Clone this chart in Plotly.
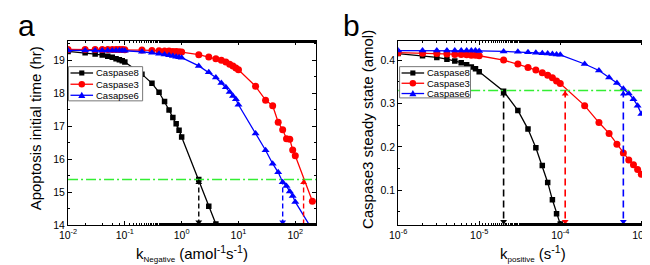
import plotly.graph_objects as go
import numpy as np

# ---------------- Panel a data ----------------
a_x8 = [0.01, 0.02, 0.03, 0.04, 0.05, 0.06, 0.07, 0.08, 0.09, 0.1,
        0.2, 0.3, 0.4, 0.5, 0.6, 0.7, 0.8, 0.9, 1, 2, 3, 4]
a_y8 = [19.27, 19.23, 19.19, 19.16, 19.12, 19.09, 19.05, 19.02, 18.99, 18.95,
        18.58, 18.30, 18.03, 17.75, 17.49, 17.26, 17.07, 16.88, 16.67, 15.38, 14.57, 14.03]

a_x3 = [0.01, 0.02, 0.03, 0.04, 0.05, 0.06, 0.07, 0.08, 0.09, 0.1,
        0.2, 0.3, 0.4, 0.5, 0.6, 0.7, 0.8, 0.9, 1,
        2, 3, 4, 5, 6, 7, 8, 9, 10, 20, 30, 40, 50, 60, 70, 80, 90, 100, 200]
a_y3 = [19.33, 19.33, 19.33, 19.33, 19.33, 19.33, 19.33, 19.33, 19.33, 19.32,
        19.31, 19.30, 19.29, 19.28, 19.28, 19.27, 19.27, 19.26, 19.25,
        19.17, 19.10, 19.05, 19.00, 18.95, 18.88, 18.83, 18.77, 18.71,
        18.21, 17.79, 17.62, 17.12, 16.89, 16.62, 16.60, 16.28, 16.10, 14.72]

a_x6 = [0.01, 0.02, 0.03, 0.04, 0.05, 0.06, 0.07, 0.08, 0.09, 0.1,
        0.2, 0.3, 0.4, 0.5, 0.6, 0.7, 0.8, 0.9, 1,
        2, 3, 4, 5, 6, 7, 8, 9, 10, 20, 30, 40, 50, 60, 70, 80, 90, 100, 200]
a_y6 = [19.30, 19.30, 19.30, 19.30, 19.30, 19.30, 19.30, 19.30, 19.30, 19.29,
        19.26, 19.23, 19.20, 19.18, 19.15, 19.13, 19.11, 19.09, 19.08,
        18.83, 18.64, 18.48, 18.31, 18.18, 18.04, 17.92, 17.82, 17.65,
        16.78, 16.27, 15.86, 15.60, 15.30, 15.18, 15.02, 14.88, 14.70, 13.85]

a_threshold = 15.38
a_cross = [2, 60, 140]
a_cross_colors = ["black", "blue", "red"]
a_top_arrow = [True, False, True]
a_bottom_arrow = [True, True, False]

# ---------------- Panel b data ----------------
b_x = [1e-6, 2e-6, 3e-6, 4e-6, 5e-6, 6e-6, 7e-6, 8e-6, 9e-6, 1e-5,
       2e-5, 3e-5, 4e-5, 5e-5, 6e-5, 7e-5, 8e-5, 9e-5, 1e-4,
       2e-4, 3e-4, 4e-4, 5e-4, 6e-4, 7e-4, 8e-4, 9e-4, 1e-3]
b_y8 = [0.415, 0.410, 0.406, 0.402, 0.398, 0.394, 0.389, 0.384, 0.380, 0.373,
        0.328, 0.284, 0.241, 0.198, 0.157, 0.118, 0.078, 0.046, 0.022,
        None, None, None, None, None, None, None, None, None]
b_y3 = [0.417, 0.416, 0.415, 0.414, 0.413, 0.413, 0.412, 0.411, 0.411, 0.410,
        0.400, 0.391, 0.383, 0.377, 0.371, 0.365, 0.359, 0.352, 0.346,
        0.295, 0.256, 0.231, 0.206, 0.186, 0.170, 0.159, 0.148, 0.137]
b_y6 = [0.422, 0.422, 0.422, 0.422, 0.422, 0.422, 0.422, 0.422, 0.422, 0.421,
        0.420, 0.419, 0.418, 0.417, 0.416, 0.415, 0.414, 0.413, 0.412,
        0.391, 0.376, 0.360, 0.347, 0.334, 0.323, 0.310, 0.295, 0.276]

b_threshold = 0.33
b_cross = [2e-5, 1.15e-4, 6e-4]
b_cross_colors = ["black", "red", "blue"]
b_top_arrow = [True, True, True]
b_bottom_arrow = [True, True, True]

a_names = ["Caspase8", "Caspase3", "Casapse6"]
b_names = ["Caspase8", "Caspase3", "Caspase6"]
colors = ["black", "red", "blue"]
symbols = ["square", "circle", "triangle-up"]
msizes = [5.5, 7, 7]

a_yrange = [14, 19.6]
a_xrange = [0.01, 235]
b_yrange = [0.02, 0.445]
b_xrange = [1e-6, 1.17e-3]

# ---------------- layout constants (pixels) ----------------
W, H = 650, 265
PLOT_TOP, PLOT_BOT = 33.3, 222.0
A_LEFT, A_RIGHT = 52.0, 305.0
B_LEFT, B_RIGHT = 388.3, 641.7


def px(x):
    return x / W


def py(y):
    return 1 - y / H


FONT = "Liberation Sans, Arial, sans-serif"
fig = go.Figure()

for xs, ys, nm, c, s, ms in zip([a_x8, a_x3, a_x6], [a_y8, a_y3, a_y6], a_names, colors, symbols, msizes):
    fig.add_trace(go.Scatter(x=xs, y=ys, name=nm, mode="lines+markers",
                             line=dict(color=c, width=1.3),
                             marker=dict(symbol=s, size=ms, color=c),
                             xaxis="x", yaxis="y", showlegend=False))
for ys, nm, c, s, ms in zip([b_y8, b_y3, b_y6], b_names, colors, symbols, msizes):
    fig.add_trace(go.Scatter(x=b_x, y=ys, name=nm, mode="lines+markers",
                             line=dict(color=c, width=1.3),
                             marker=dict(symbol=s, size=ms, color=c),
                             xaxis="x2", yaxis="y2", showlegend=False))

GREEN = "#33ee33"
fig.add_trace(go.Scatter(x=a_xrange, y=[a_threshold, a_threshold], mode="lines",
                         line=dict(color=GREEN, width=1.5, dash="10px,3px,2px,3px"),
                         showlegend=False, xaxis="x", yaxis="y", hoverinfo="skip"))
fig.add_trace(go.Scatter(x=b_xrange, y=[b_threshold, b_threshold], mode="lines",
                         line=dict(color=GREEN, width=1.5, dash="10px,3px,2px,3px"),
                         showlegend=False, xaxis="x2", yaxis="y2", hoverinfo="skip"))


def add_arrows(cross, cols, tops, bots, thr, ymin, xa, ya, arrow_h, dash, lw):
    for xc, c, tp, bt in zip(cross, cols, tops, bots):
        fig.add_trace(go.Scatter(x=[xc, xc], y=[thr, ymin], mode="lines",
                                 line=dict(color=c, width=lw, dash=dash),
                                 showlegend=False, xaxis=xa, yaxis=ya, hoverinfo="skip"))
        if tp:
            fig.add_trace(go.Scatter(x=[xc], y=[thr - arrow_h], mode="markers",
                                     marker=dict(symbol="triangle-up", size=6, color=c),
                                     showlegend=False, xaxis=xa, yaxis=ya, hoverinfo="skip"))
        if bt:
            fig.add_trace(go.Scatter(x=[xc], y=[ymin + arrow_h], mode="markers",
                                     marker=dict(symbol="triangle-down", size=6, color=c),
                                     showlegend=False, xaxis=xa, yaxis=ya, hoverinfo="skip"))


add_arrows(a_cross, a_cross_colors, a_top_arrow, a_bottom_arrow, a_threshold, a_yrange[0],
           "x", "y", 0.09, "5px,3px", 1.4)
add_arrows(b_cross, b_cross_colors, b_top_arrow, b_bottom_arrow, b_threshold, b_yrange[0],
           "x2", "y2", 0.008, "7px,4px", 1.6)

tickfont = dict(family=FONT, size=10.5, color="black")
TITLE_SIZE = 15


def sup(e):
    return "10<sup>%d</sup>" % e


axis_common = dict(showline=True, linecolor="black", linewidth=1, mirror="allticks",
                   ticks="inside", ticklen=4, tickcolor="black", showgrid=False,
                   zeroline=False, tickfont=tickfont)

# ---------------- custom compact legends (shapes + text) ----------------
shapes = []
annotations = []


def legend_box(x0, y0, x1, y1, names, rows):
    shapes.append(dict(type="rect", xref="paper", yref="paper", x0=px(x0), x1=px(x1),
                       y0=py(y1), y1=py(y0), fillcolor="white", line=dict(color="#777", width=1),
                       layer="above"))
    for nm, c, s, ry in zip(names, colors, symbols, rows):
        lx0, lx1 = x0 + 2, x0 + 25
        shapes.append(dict(type="line", xref="paper", yref="paper", x0=px(lx0), x1=px(lx1),
                           y0=py(ry), y1=py(ry), line=dict(color=c, width=1.3), layer="above"))
        cx = (lx0 + lx1) / 2
        if s == "square":
            r = 2.6
            shapes.append(dict(type="rect", xref="paper", yref="paper", x0=px(cx - r), x1=px(cx + r),
                               y0=py(ry + r), y1=py(ry - r), fillcolor=c, line=dict(width=0), layer="above"))
        elif s == "circle":
            r = 3.3
            shapes.append(dict(type="circle", xref="paper", yref="paper", x0=px(cx - r), x1=px(cx + r),
                               y0=py(ry + r), y1=py(ry - r), fillcolor=c, line=dict(width=0), layer="above"))
        else:
            r = 3.6
            path = "M %f %f L %f %f L %f %f Z" % (px(cx - r), py(ry + r * 0.8), px(cx + r), py(ry + r * 0.8),
                                                  px(cx), py(ry - r))
            shapes.append(dict(type="path", xref="paper", yref="paper", path=path,
                               fillcolor=c, line=dict(width=0), layer="above"))
        annotations.append(dict(text=nm, x=px(lx1 + 1), y=py(ry), xref="paper", yref="paper",
                                xanchor="left", yanchor="middle", showarrow=False,
                                font=dict(family=FONT, size=9.5, color="black")))


legend_box(A_LEFT + 0.5, 60, 128, 95, a_names, [66.5, 78, 89.3])
legend_box(B_LEFT + 1.5, 60, 462, 92, b_names, [66.5, 77, 87.5])

SUBSTYLE = '<span style="font-size:8px">%s</span>'

# ---------------- axis titles & panel labels ----------------
annotations += [
    dict(text="Apoptosis initial time (hr)", x=px(18.5), y=py(123), xref="paper", yref="paper",
         textangle=-90, showarrow=False, xanchor="center", yanchor="middle",
         font=dict(family=FONT, size=TITLE_SIZE, color="black")),
    dict(text="k<sub>" + SUBSTYLE % "Negative" + "</sub> (amol<sup>-1</sup>s<sup>-1</sup>)",
         x=px(178), y=py(251),
         xref="paper", yref="paper", showarrow=False, xanchor="center", yanchor="middle",
         font=dict(family=FONT, size=TITLE_SIZE, color="black")),
    dict(text="Caspase3 steady state (amol)", x=px(356.5), y=py(124), xref="paper", yref="paper",
         textangle=-90, showarrow=False, xanchor="center", yanchor="middle",
         font=dict(family=FONT, size=TITLE_SIZE, color="black")),
    dict(text="k<sub>" + SUBSTYLE % "positive" + "</sub> (s<sup>-1</sup>)", x=px(526), y=py(251),
         xref="paper", yref="paper", showarrow=False, xanchor="center", yanchor="middle",
         font=dict(family=FONT, size=TITLE_SIZE, color="black")),
    dict(text="a", x=px(10), y=py(0), xref="paper", yref="paper", xanchor="center", yanchor="top",
         showarrow=False, borderpad=0, font=dict(family=FONT, size=30, color="black")),
    dict(text="b", x=px(341), y=py(0), xref="paper", yref="paper", xanchor="center", yanchor="top",
         showarrow=False, borderpad=0, font=dict(family=FONT, size=30, color="black")),
]

fig.update_layout(
    width=W, height=H,
    margin=dict(l=0, r=0, t=0, b=0),
    paper_bgcolor="white", plot_bgcolor="white",
    font=dict(family=FONT, color="black"),
    showlegend=False,
    xaxis=dict(domain=[px(A_LEFT), px(A_RIGHT)], type="log",
               range=[np.log10(a_xrange[0]), np.log10(a_xrange[1])],
               tickvals=[1e-2, 1e-1, 1, 10, 100], ticktext=[sup(e) for e in [-2, -1, 0, 1, 2]],
               minor=dict(ticks="inside", ticklen=2, tickcolor="black", showgrid=False),
               anchor="y", **axis_common),
    yaxis=dict(domain=[py(PLOT_BOT), py(PLOT_TOP)], range=a_yrange, dtick=1,
               minor=dict(ticks="inside", ticklen=2, tickcolor="black", dtick=0.5, showgrid=False),
               anchor="x", **axis_common),
    xaxis2=dict(domain=[px(B_LEFT), px(B_RIGHT)], type="log",
                range=[np.log10(b_xrange[0]), np.log10(b_xrange[1])],
                tickvals=[1e-6, 1e-5, 1e-4, 1e-3], ticktext=[sup(e) for e in [-6, -5, -4, -3]],
                minor=dict(ticks="inside", ticklen=2, tickcolor="black", showgrid=False),
                anchor="y2", **axis_common),
    yaxis2=dict(domain=[py(PLOT_BOT), py(PLOT_TOP)], range=b_yrange, dtick=0.1, tick0=0,
                minor=dict(ticks="inside", ticklen=2, tickcolor="black", dtick=0.05, showgrid=False),
                anchor="x2", **axis_common),
    shapes=shapes,
    annotations=annotations,
)

fig.write_html("out.html")
